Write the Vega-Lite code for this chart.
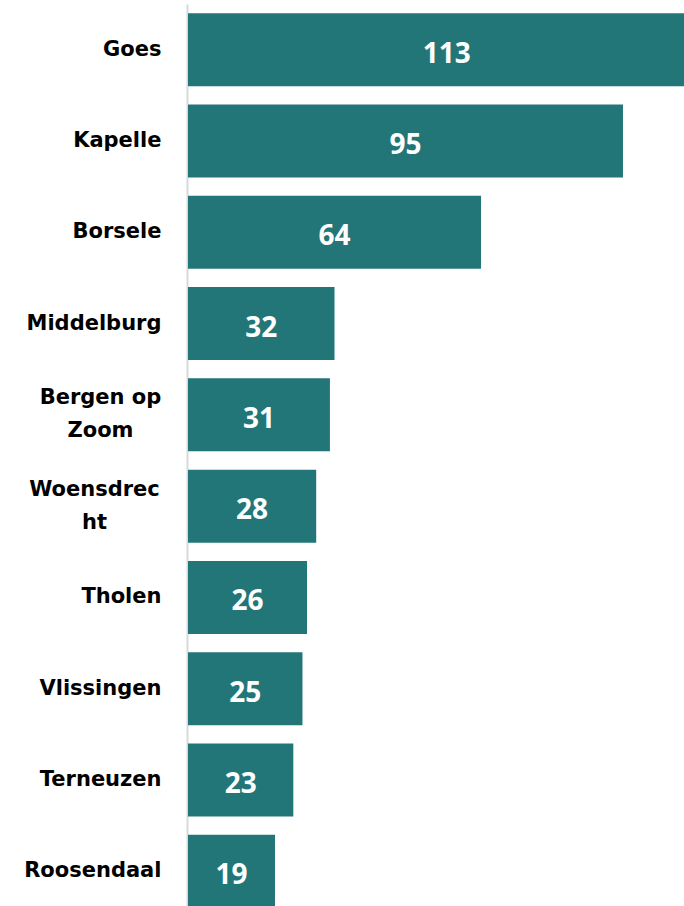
{
  "$schema": "https://vega.github.io/schema/vega-lite/v6.json",
  "autosize": {"type": "none"},
  "width": 496,
  "height": 906,
  "padding": {"left": 188, "top": 0, "right": 0, "bottom": 0},
  "background": "white",
  "config": {"view": {"stroke": null}},
  "data": {
    "values": [
      {"gemeente": "Goes", "aantal": 113},
      {"gemeente": "Kapelle", "aantal": 95},
      {"gemeente": "Borsele", "aantal": 64},
      {"gemeente": "Middelburg", "aantal": 32},
      {"gemeente": "Bergen op Zoom", "aantal": 31},
      {"gemeente": "Woensdrecht", "aantal": 28},
      {"gemeente": "Tholen", "aantal": 26},
      {"gemeente": "Vlissingen", "aantal": 25},
      {"gemeente": "Terneuzen", "aantal": 23},
      {"gemeente": "Roosendaal", "aantal": 19}
    ]
  },
  "encoding": {
    "y": {
      "field": "gemeente",
      "type": "nominal",
      "sort": null,
      "scale": {"range": [4, 917], "paddingInner": 0.2, "paddingOuter": 0.1},
      "axis": {
        "title": null,
        "ticks": false,
        "grid": false,
        "domain": true,
        "domainColor": "#d9d9d9",
        "domainWidth": 2,
        "offset": 1,
        "labelFont": "DejaVu Sans",
        "labelFontWeight": "bold",
        "labelFontSize": 21,
        "labelColor": "#000000",
        "labelLimit": 300,
        "labelLineHeight": 33,
        "labelAlign": {"condition": {"test": "datum.value == 'Bergen op Zoom' || datum.value == 'Woensdrecht'", "value": "center"}, "value": "right"},
        "labelPadding": {"condition": [{"test": "datum.value == 'Bergen op Zoom'", "value": 87}, {"test": "datum.value == 'Woensdrecht'", "value": 93}], "value": 26},
        "labelOffset": {"condition": {"test": "datum.value == 'Bergen op Zoom' || datum.value == 'Woensdrecht'", "value": -16.5}, "value": 0},
        "labelExpr": "datum.value == 'Bergen op Zoom' ? ['Bergen op', 'Zoom'] : datum.value == 'Woensdrecht' ? ['Woensdrec', 'ht'] : datum.value"
      }
    }
  },
  "layer": [
    {
      "mark": {"type": "bar", "color": "#237678", "clip": true},
      "encoding": {
        "x": {
          "field": "aantal",
          "type": "quantitative",
          "scale": {"domain": [0, 108.33], "nice": false, "zero": true},
          "axis": null
        }
      }
    },
    {
      "mark": {
        "type": "text",
        "align": "center",
        "baseline": "middle",
        "dy": 5,
        "color": "white",
        "font": "Open Sans",
        "fontWeight": "bold",
        "fontSize": 28
      },
      "encoding": {
        "x": {
          "field": "aantal",
          "type": "quantitative",
          "scale": {"domain": [0, 216.66], "nice": false, "zero": true},
          "axis": null
        },
        "text": {"field": "aantal", "type": "quantitative"}
      }
    }
  ],
  "resolve": {"scale": {"x": "independent"}}
}
